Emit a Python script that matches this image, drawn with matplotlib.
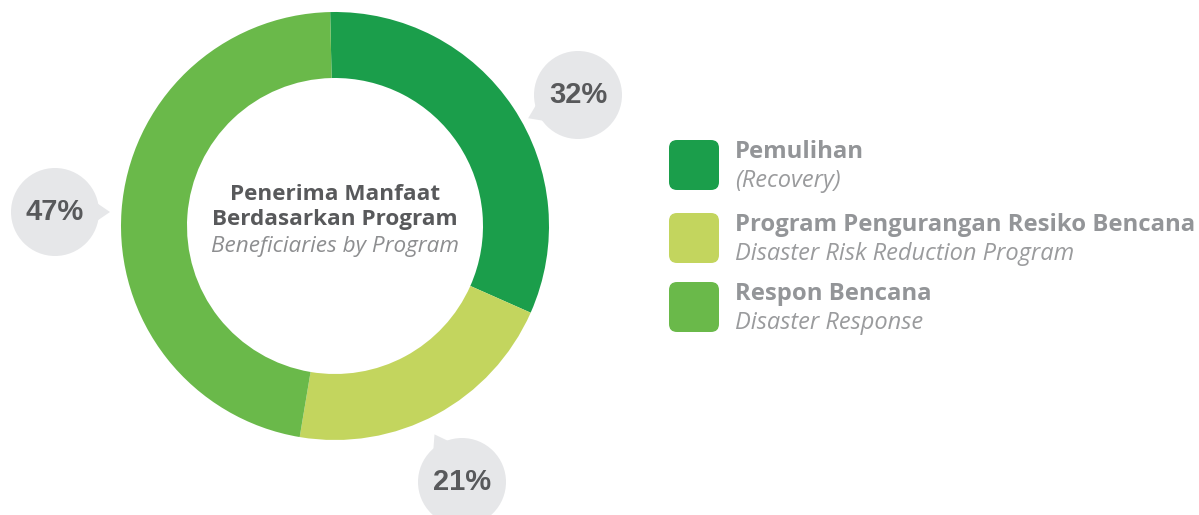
import matplotlib.pyplot as plt
import numpy as np
from matplotlib.patches import Circle, Polygon, FancyBboxPatch

# data
programs = ['Pemulihan', 'Program Pengurangan Resiko Bencana', 'Respon Bencana']
programs_en = ['(Recovery)', 'Disaster Risk Reduction Program', 'Disaster Response']
shares = [32, 21, 47]
colors = ['#1b9e4b', '#c3d55e', '#6ab94a']

W, H = 1199, 515
fig = plt.figure(figsize=(W / 100, H / 100), dpi=100)
ax = fig.add_axes([0, 0, 1, 1])

# donut (pixel coords, y flipped)
cx, cy = 335, H - 226
ax.pie(shares, colors=colors, startangle=91.3, counterclock=False,
       radius=214, center=(cx, cy), wedgeprops=dict(width=66, linewidth=0))

# centre title
ax.text(cx, H - 200, 'Penerima Manfaat', ha='center', va='baseline',
        fontsize=16.2, fontweight='bold', family='Open Sans', color='#58595b')
ax.text(cx, H - 225, 'Berdasarkan Program', ha='center', va='baseline',
        fontsize=16.2, fontweight='bold', family='Open Sans', color='#58595b')
ax.text(cx, H - 252, 'Beneficiaries by Program', ha='center', va='baseline',
        fontsize=16.2, style='italic', family='Open Sans', color='#8d8e90')

# speech bubbles with the percentages
bubble_pos = [(578, H - 95), (462, H - 482), (55, H - 212)]
tail_dir = [205, 120, 0]  # degrees, direction the tail points
bubble_col = '#e6e7e9'
for (bx, by), ang, v in zip(bubble_pos, tail_dir, shares):
    r = 44
    ax.add_patch(Circle((bx, by), r, color=bubble_col, lw=0, zorder=3))
    a = np.radians(ang)
    tip = (bx + (r + 11) * np.cos(a), by + (r + 11) * np.sin(a))
    b1 = (bx + r * 0.9 * np.cos(a + 0.3), by + r * 0.9 * np.sin(a + 0.3))
    b2 = (bx + r * 0.9 * np.cos(a - 0.3), by + r * 0.9 * np.sin(a - 0.3))
    ax.add_patch(Polygon([b1, tip, b2], closed=True, color=bubble_col, lw=0, zorder=3))
    ax.text(bx, by, f'{v}%', ha='center', va='center', fontsize=21,
            fontweight='bold', family='Liberation Sans', color='#58595b', zorder=4)

# legend
box_tops = [140, 213, 282]
for top, name, en, c in zip(box_tops, programs, programs_en, colors):
    ax.add_patch(FancyBboxPatch((669 + 8, H - top - 50 + 8), 50 - 16, 50 - 16,
                                boxstyle='round,pad=8', color=c, lw=0))
    ax.text(735, H - top - 18, name, ha='left', va='baseline', fontsize=17.2,
            fontweight='bold', family='Open Sans', color='#939598')
    ax.text(735, H - top - 47, en, ha='left', va='baseline', fontsize=17,
            style='italic', family='Open Sans', color='#9a9b9d')

ax.set_xlim(0, W)
ax.set_ylim(0, H)
ax.set_aspect('equal')
ax.axis('off')

plt.savefig('out.png', dpi=100)
